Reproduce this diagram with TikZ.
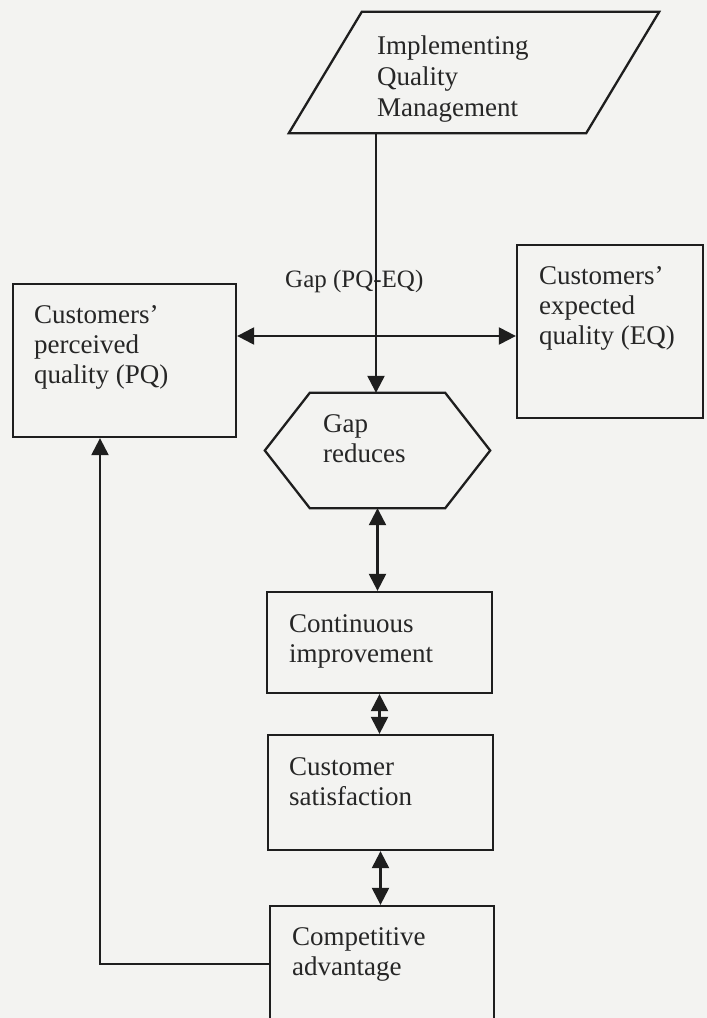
\documentclass[tikz,border=0pt]{standalone}
\usepackage{fontspec}
\setmainfont{Liberation Serif}
\usetikzlibrary{arrows.meta}
\definecolor{paper}{HTML}{F3F3F1}
\definecolor{ink}{HTML}{1E1E1E}
\definecolor{txtc}{HTML}{262626}
% multi-line label whose reference point is the first baseline
\newcommand{\boxlines}[1]{\begin{tabular}[t]{@{}l@{}}#1\end{tabular}}
\begin{document}
\begin{tikzpicture}[x=1pt,y=-1pt,
  frame/.style={draw=ink, line width=2.3pt, rectangle, inner sep=0pt},
  hidden/.style={rectangle, inner sep=0pt},
  lbl/.style={font=\fontsize{27}{30}\selectfont, text=txtc, inner sep=0pt, anchor=base west},
  conn/.style={draw=ink, line width=2.3pt},
  arr/.style={-{Triangle[length=17pt,width=17pt]}},
  darr/.style={{Triangle[length=17pt,width=17pt]}-{Triangle[length=17pt,width=17pt]}}]
\useasboundingbox (0,0) rectangle (707,1018);
\fill[paper] (0,0) rectangle (707,1018);
\clip (0,0) rectangle (707,1018);

% shape nodes
\node[hidden, minimum width=297pt, minimum height=121pt] (iqm) at (474,72.5) {};
\node[frame, minimum width=223pt, minimum height=153pt] (pq) at (124.5,360.5) {};
\node[frame, minimum width=186pt, minimum height=173pt] (eq) at (610,331.5) {};
\node[hidden, minimum width=135pt, minimum height=115pt] (gapr) at (377.5,450.5) {};
\node[frame, minimum width=225pt, minimum height=101pt] (ci) at (379.5,642.5) {};
\node[frame, minimum width=225pt, minimum height=115pt] (cs) at (380.5,792.5) {};
\node[frame, minimum width=224pt, minimum height=116pt] (ca) at (382,964) {};

% parallelogram and hexagon outlines
\draw[conn, line join=miter]
  ([xshift=-36.5pt]iqm.south west) -- ([xshift=36.5pt]iqm.north west) --
  ([xshift=36.5pt]iqm.north east) -- ([xshift=-36.5pt]iqm.south east) -- cycle;
\draw[conn, line join=miter]
  (gapr.north west) -- (gapr.north east) -- ([xshift=45pt]gapr.east) --
  (gapr.south east) -- (gapr.south west) -- ([xshift=-45pt]gapr.west) -- cycle;

% texts
\node[lbl] (iqmt) at (377,54) {\fontsize{27}{31}\selectfont\boxlines{Implementing\\Quality\\Management}};
\node[lbl] (pqt) at (34,323) {\boxlines{Customers’\\perceived\\quality (PQ)}};
\node[lbl] (eqt) at (539,284) {\boxlines{Customers’\\expected\\quality (EQ)}};
\node[lbl] (gaprt) at (323,432) {\boxlines{Gap\\reduces}};
\node[lbl] (cit) at (289,632) {\boxlines{Continuous\\improvement}};
\node[lbl] (cst) at (289,775) {\boxlines{Customer\\satisfaction}};
\node[lbl] (cat) at (292,945) {\boxlines{Competitive\\advantage}};
\node[lbl, font=\fontsize{25}{30}\selectfont] (gaplbl) at (285,287) {Gap (PQ-EQ)};

% connectors
\coordinate (gx) at (376,336);
\draw[conn, darr] (pq.east |- gx) -- (eq.west |- gx);
\draw[conn, arr] (iqm.south -| gx) -- (gapr.north -| gx);
\draw[conn, darr] (gapr.south) -- (gapr.south |- ci.north);
\draw[conn, darr] (ci.south) -- (ci.south |- cs.north);
\draw[conn, darr] (cs.south) -- (cs.south |- ca.north);
\draw[conn, arr] (ca.west) -| ([xshift=-24.5pt]pq.south);
\end{tikzpicture}
\end{document}
